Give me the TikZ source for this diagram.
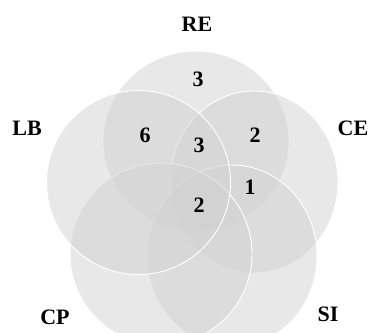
\documentclass[tikz,border=0pt]{standalone}
\usepackage{fontspec}
\setmainfont{Liberation Serif}
\begin{document}
\begin{tikzpicture}[x=1pt,y=-1pt,
  setshape/.style={fill=black!18, fill opacity=0.5, draw=white, line width=0.9pt},
  lab/.style={font=\fontsize{22}{26}\selectfont\bfseries, inner sep=0pt, text=black},
  num/.style={font=\fontsize{22}{26}\selectfont\bfseries, inner sep=0pt, text=black}]
\useasboundingbox (0,0) rectangle (372,332);
\clip (0,0) rectangle (372,332);
% sets, in drawing order
\draw[setshape] (196,141) ellipse [x radius=93pt, y radius=90pt];   % RE
\draw[setshape] (254,182) ellipse [x radius=84pt, y radius=91pt];   % CE
\draw[setshape] (232,256) ellipse [x radius=85pt, y radius=91pt];   % SI
\draw[setshape] (161,254) ellipse [x radius=91pt, y radius=91pt];   % CP
\draw[setshape] (138.5,182.5) ellipse [x radius=92pt, y radius=92pt]; % LB
% labels
\node[lab] (lRE) at (197,24) {RE};
\node[lab] (lLB) at (27,128) {LB};
\node[lab] (lCE) at (353,128) {CE};
\node[lab] (lCP) at (55,317) {CP};
\node[lab] (lSI) at (328,314) {SI};
% counts
\node[num] (n1) at (198,79) {3};
\node[num] (n2) at (145,135) {6};
\node[num] (n3) at (199,145) {3};
\node[num] (n4) at (255,135) {2};
\node[num] (n5) at (250,187) {1};
\node[num] (n6) at (199,205) {2};
\end{tikzpicture}
\end{document}
